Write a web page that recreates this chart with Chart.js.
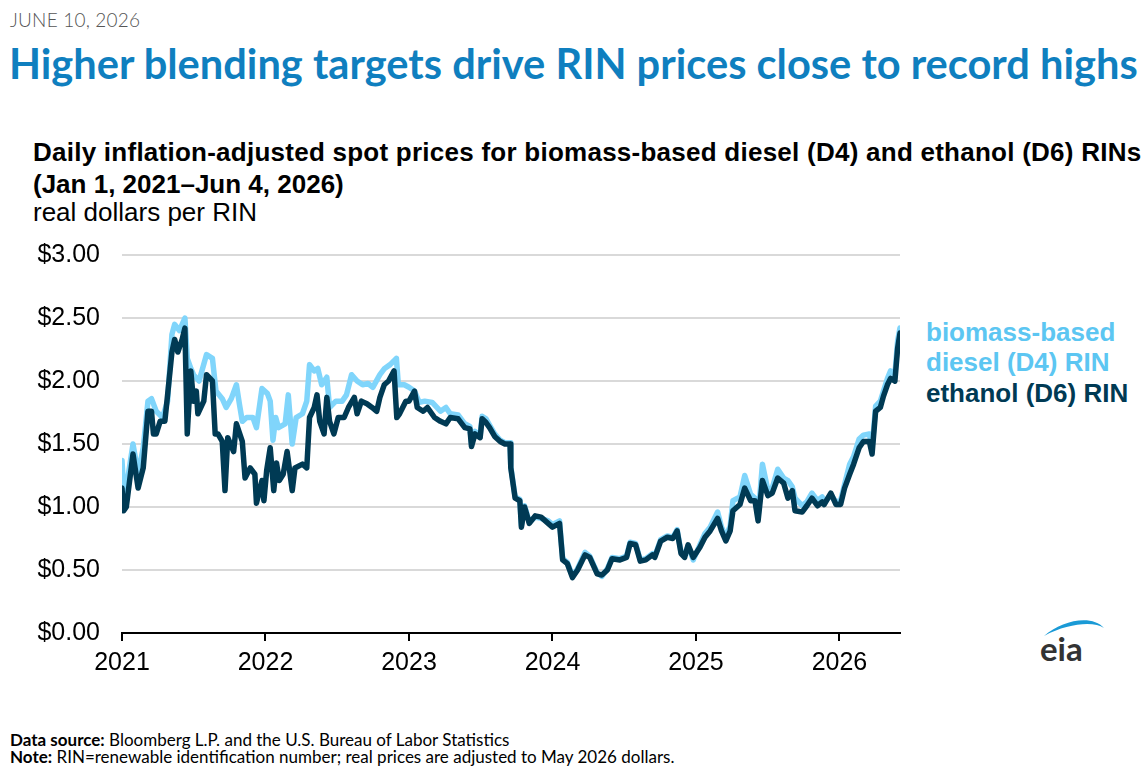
<!DOCTYPE html>
<html>
<head>
<meta charset="utf-8">
<script src="https://cdn.jsdelivr.net/npm/chart.js@4"></script>
<style>
  html,body{margin:0;padding:0;background:#fff;}
  body{width:1145px;height:767px;position:relative;overflow:hidden;font-family:"Liberation Sans",Arial,sans-serif;}
  .abs{position:absolute;white-space:nowrap;}
  #date{left:10px;top:8px;font-family:Lato,sans-serif;font-weight:300;font-size:19px;color:#555;letter-spacing:0.2px;}
  #title{left:9px;top:38px;font-family:Lato,sans-serif;font-weight:700;font-size:37px;color:#0f7fbf;}
  .sub{left:33px;font-size:26px;color:#000;line-height:30px;}
  #s1{top:137px;font-weight:bold;letter-spacing:0.25px;}
  #s2{top:169px;font-weight:bold;}
  #s3{top:197px;}
  .lab{left:926px;font-size:26px;font-weight:bold;line-height:30px;}
  .foot{left:10px;font-family:Lato,sans-serif;font-size:17px;color:#000;line-height:18px;}
  #wrap{position:absolute;left:20px;top:218px;width:890px;height:472px;}
</style>
</head>
<body>
<div id="date" class="abs">JUNE 10, 2026</div>
<div id="title" class="abs">Higher blending targets drive RIN prices close to record highs</div>
<div id="s1" class="abs sub">Daily inflation-adjusted spot prices for biomass-based diesel (D4) and ethanol (D6) RINs</div>
<div id="s2" class="abs sub">(Jan 1, 2021–Jun 4, 2026)</div>
<div id="s3" class="abs sub">real dollars per RIN</div>
<div class="abs lab" style="top:317px;color:#5cc6f2;">biomass-based</div>
<div class="abs lab" style="top:347px;color:#5cc6f2;">diesel (D4) RIN</div>
<div class="abs lab" style="top:378px;color:#003a54;">ethanol (D6) RIN</div>
<div id="f1" class="abs foot" style="top:731px;"><b>Data source:</b> Bloomberg L.P. and the U.S. Bureau of Labor Statistics</div>
<div id="f2" class="abs foot" style="top:748px;"><b>Note:</b> RIN=renewable identification number; real prices are adjusted to May 2026 dollars.</div>
<svg class="abs" style="left:1034px;top:612px;" width="80" height="54" viewBox="0 0 80 54">
  <path d="M10 24 C 28 8, 58 2, 70 16 C 60 9, 34 11, 10 24 Z" fill="#1a9ad6"/>
  <text x="6" y="49" font-family="Lato, 'Open Sans', sans-serif" font-weight="700" font-size="33" fill="#333">eia</text>
</svg>
<div id="wrap"><canvas id="c"></canvas></div>
<script>
const yTicks = [0, 0.5, 1, 1.5, 2, 2.5, 3];
const xTickYears = [2021, 2022, 2023, 2024, 2025, 2026];

const d6Dates = ["2021-01-01","2021-01-05","2021-01-12","2021-01-20","2021-01-29","2021-02-11","2021-02-24","2021-03-08","2021-03-17","2021-03-22","2021-03-29","2021-04-08","2021-04-20","2021-04-27","2021-05-08","2021-05-15","2021-05-23","2021-06-03","2021-06-10","2021-06-16","2021-06-25","2021-07-02","2021-07-09","2021-07-13","2021-07-28","2021-08-04","2021-08-19","2021-08-26","2021-09-02","2021-09-13","2021-09-20","2021-09-27","2021-10-12","2021-10-19","2021-11-03","2021-11-10","2021-11-23","2021-12-05","2021-12-09","2021-12-23","2021-12-28",
"2022-01-04","2022-01-13","2022-01-22","2022-01-29","2022-02-05","2022-02-15","2022-02-25","2022-03-10","2022-03-17","2022-04-05","2022-04-16","2022-04-23","2022-05-05","2022-05-12","2022-05-19","2022-05-30","2022-06-06","2022-06-13","2022-06-24","2022-07-05","2022-07-20","2022-07-31","2022-08-15","2022-08-22","2022-09-02","2022-09-16","2022-09-29","2022-10-11","2022-10-19","2022-10-30","2022-11-10","2022-11-24","2022-12-01","2022-12-08","2022-12-24",
"2023-01-01","2023-01-15","2023-01-22","2023-02-06","2023-02-17","2023-03-07","2023-03-22","2023-04-05","2023-04-16","2023-05-06","2023-05-23","2023-06-05","2023-06-09","2023-06-18","2023-07-01","2023-07-06","2023-07-16","2023-07-25","2023-08-07","2023-08-21","2023-09-02","2023-09-15","2023-09-17","2023-09-28","2023-10-10","2023-10-14","2023-10-22","2023-11-03","2023-11-18","2023-12-03","2023-12-21",
"2024-01-01","2024-01-19","2024-01-27","2024-02-08","2024-02-21","2024-03-05","2024-03-24","2024-04-05","2024-04-24","2024-05-06","2024-05-20","2024-06-01","2024-06-21","2024-07-08","2024-07-17","2024-07-31","2024-08-12","2024-08-26","2024-09-12","2024-09-18","2024-10-03","2024-10-20","2024-11-03","2024-11-14","2024-11-24","2024-12-03","2024-12-12","2024-12-25",
"2025-01-11","2025-01-24","2025-02-06","2025-02-25","2025-03-07","2025-03-18","2025-03-29","2025-04-05","2025-04-23","2025-05-05","2025-05-20","2025-05-31","2025-06-08","2025-06-19","2025-07-03","2025-07-14","2025-07-28","2025-08-12","2025-08-23","2025-09-03","2025-09-10","2025-09-28","2025-10-10","2025-10-23","2025-11-06","2025-11-18","2025-11-23","2025-12-10","2025-12-23",
"2026-01-04","2026-01-14","2026-01-27","2026-02-06","2026-02-20","2026-03-03","2026-03-18","2026-03-25","2026-04-03","2026-04-15","2026-04-23","2026-05-03","2026-05-11","2026-05-22","2026-05-29","2026-06-04"];
const d6Values = [1.15,0.97,1.00,1.20,1.42,1.15,1.31,1.76,1.76,1.58,1.58,1.68,1.68,1.89,2.23,2.33,2.23,2.33,2.42,1.58,2.08,1.84,1.92,1.74,1.84,2.05,2.00,1.58,1.58,1.52,1.13,1.55,1.44,1.66,1.52,1.23,1.31,1.26,1.03,1.21,1.05,
1.29,1.47,1.13,1.35,1.21,1.26,1.44,1.13,1.31,1.34,1.31,1.71,1.79,1.89,1.68,1.58,1.87,1.68,1.58,1.71,1.71,1.79,1.87,1.74,1.84,1.82,1.79,1.76,1.87,1.97,2.00,2.08,1.71,1.74,1.84,
1.84,1.92,1.79,1.76,1.79,1.71,1.68,1.66,1.71,1.70,1.63,1.62,1.48,1.58,1.55,1.70,1.67,1.63,1.56,1.52,1.50,1.50,1.31,1.07,1.05,0.84,1.00,0.87,0.93,0.92,0.87,
0.84,0.87,0.58,0.55,0.44,0.50,0.62,0.60,0.47,0.46,0.50,0.59,0.58,0.60,0.71,0.70,0.57,0.58,0.62,0.60,0.73,0.76,0.75,0.81,0.63,0.60,0.70,0.60,
0.68,0.76,0.81,0.91,0.81,0.73,0.81,0.97,1.02,1.15,1.05,1.05,0.89,1.21,1.09,1.11,1.23,1.19,1.07,1.13,0.97,0.96,1.01,1.07,1.01,1.04,1.02,1.11,1.02,
1.02,1.15,1.26,1.34,1.47,1.52,1.52,1.42,1.76,1.79,1.88,1.97,2.02,2.00,2.26,2.38];

const d4Dates = ["2021-01-01","2021-01-06","2021-01-12","2021-01-29","2021-02-11","2021-02-24","2021-03-08","2021-03-17","2021-03-29","2021-04-14","2021-04-27","2021-05-08","2021-05-15","2021-05-27","2021-06-10","2021-06-16","2021-06-25","2021-07-02","2021-07-16","2021-08-04","2021-08-19","2021-08-28","2021-09-13","2021-09-23","2021-10-06","2021-10-19","2021-10-27","2021-11-03","2021-11-14","2021-11-30","2021-12-09","2021-12-23",
"2022-01-06","2022-01-13","2022-01-20","2022-01-27","2022-02-03","2022-02-20","2022-02-28","2022-03-10","2022-03-20","2022-04-05","2022-04-16","2022-04-23","2022-05-05","2022-05-14","2022-05-24","2022-06-06","2022-06-13","2022-06-29","2022-07-15","2022-07-26","2022-08-08","2022-08-22","2022-09-05","2022-09-19","2022-10-01","2022-10-19","2022-10-31","2022-11-14","2022-11-24","2022-11-30","2022-12-05","2022-12-20",
"2023-01-01","2023-01-15","2023-01-27","2023-02-10","2023-03-01","2023-03-22","2023-04-05","2023-04-16","2023-05-06","2023-05-23","2023-06-05","2023-06-09","2023-06-18","2023-07-01","2023-07-06","2023-07-16","2023-07-25","2023-08-07","2023-08-21","2023-09-02","2023-09-15","2023-09-17","2023-09-28","2023-10-10","2023-10-14","2023-10-22","2023-11-03","2023-11-18","2023-12-03","2023-12-21",
"2024-01-01","2024-01-19","2024-01-27","2024-02-08","2024-02-21","2024-03-05","2024-03-24","2024-04-05","2024-04-24","2024-05-06","2024-05-20","2024-06-01","2024-06-21","2024-07-08","2024-07-17","2024-07-31","2024-08-12","2024-08-26","2024-09-12","2024-09-18","2024-10-03","2024-10-20","2024-11-03","2024-11-14","2024-11-24","2024-12-03","2024-12-12","2024-12-25",
"2025-01-11","2025-01-24","2025-02-06","2025-02-25","2025-03-07","2025-03-18","2025-03-29","2025-04-05","2025-04-23","2025-05-05","2025-05-20","2025-05-31","2025-06-08","2025-06-19","2025-07-03","2025-07-14","2025-07-28","2025-08-12","2025-08-23","2025-09-03","2025-09-10","2025-09-28","2025-10-10","2025-10-23","2025-11-06","2025-11-18","2025-11-23","2025-12-10","2025-12-23",
"2026-01-04","2026-01-14","2026-01-27","2026-02-06","2026-02-20","2026-03-03","2026-03-18","2026-03-25","2026-04-03","2026-04-15","2026-04-23","2026-05-03","2026-05-11","2026-05-22","2026-05-29","2026-06-04"];
const d4Values = [1.37,1.10,1.15,1.50,1.26,1.47,1.84,1.86,1.76,1.71,1.84,2.37,2.45,2.40,2.50,2.18,2.10,2.05,2.00,2.21,2.18,1.92,1.86,1.79,1.86,1.97,1.81,1.68,1.71,1.71,1.63,1.94,
1.90,1.84,1.53,1.71,1.63,1.66,1.89,1.50,1.71,1.74,1.84,2.13,2.08,2.10,1.97,2.03,1.79,1.84,1.84,1.89,2.05,2.00,1.97,1.98,1.95,2.05,2.10,2.13,2.16,2.18,1.97,1.97,
1.95,1.92,1.83,1.84,1.83,1.76,1.79,1.74,1.73,1.66,1.64,1.50,1.60,1.57,1.72,1.70,1.65,1.58,1.53,1.51,1.51,1.32,1.08,1.06,0.85,1.01,0.88,0.92,0.91,0.89,
0.86,0.89,0.59,0.56,0.45,0.51,0.64,0.61,0.48,0.45,0.51,0.60,0.59,0.61,0.72,0.71,0.58,0.59,0.63,0.61,0.74,0.77,0.76,0.82,0.64,0.62,0.69,0.58,
0.70,0.79,0.84,0.96,0.84,0.76,0.85,1.05,1.08,1.25,1.10,1.07,0.92,1.34,1.13,1.15,1.30,1.23,1.21,1.16,1.07,1.01,1.04,1.11,1.05,1.08,1.03,1.10,1.04,
1.05,1.18,1.34,1.40,1.54,1.57,1.58,1.47,1.80,1.84,1.92,2.02,2.08,2.05,2.32,2.42];

const xStart = "2021-01-01", xEnd = "2026-06-04";

function decYear(s){
  const [y,m,d] = s.split("-").map(Number);
  const t0 = Date.UTC(y,0,1), t1 = Date.UTC(y+1,0,1);
  return y + (Date.UTC(y,m-1,d) - t0)/(t1 - t0);
}
const pts = (dates, vals) => dates.map((d,i)=>({x:decYear(d), y:vals[i]}));

// fit title width
(function(){
  const t = document.getElementById('title');
  const target = 1129;
  const w = t.getBoundingClientRect().width;
  const fs = parseFloat(getComputedStyle(t).fontSize);
  t.style.fontSize = (fs*target/w) + 'px';
})();

const tickFont = {family:'"Liberation Sans", Arial, sans-serif', size:25};

new Chart(document.getElementById('c'), {
  type:'line',
  data:{datasets:[
    {label:'ethanol (D6) RIN', data:pts(d6Dates,d6Values), borderColor:'#003a54', borderWidth:5.5, pointRadius:0, tension:0, borderJoinStyle:'round', borderCapStyle:'round'},
    {label:'biomass-based diesel (D4) RIN', data:pts(d4Dates,d4Values), borderColor:'#80d5fb', borderWidth:5.5, pointRadius:0, tension:0, borderJoinStyle:'round', borderCapStyle:'round'}
  ]},
  options:{
    responsive:true, maintainAspectRatio:false, animation:false,
    layout:{padding:{top:13,right:10,left:0,bottom:0}},
    plugins:{legend:{display:false}, tooltip:{enabled:false}},
    scales:{
      x:{type:'linear', min:decYear(xStart), max:decYear(xEnd),
        afterBuildTicks:(s)=>{s.ticks = xTickYears.map(v=>({value:v}));},
        afterFit:(s)=>{s.height = 57;},
        ticks:{font:tickFont, color:'#000', padding:7, maxRotation:0, callback:(v)=>String(v)},
        grid:{drawOnChartArea:false, drawTicks:true, tickLength:8, color:'#000', lineWidth:2},
        border:{display:true, color:'#000', width:2}
      },
      y:{min:0, max:3,
        afterBuildTicks:(s)=>{s.ticks = yTicks.map(v=>({value:v}));},
        afterFit:(s)=>{s.width = 102;},
        ticks:{font:tickFont, color:'#000', padding:22, callback:(v)=>'$'+Number(v).toFixed(2)},
        grid:{color:'#d9d9d9', lineWidth:2, drawTicks:false},
        border:{display:false}
      }
    }
  }
});
</script>
</body>
</html>
